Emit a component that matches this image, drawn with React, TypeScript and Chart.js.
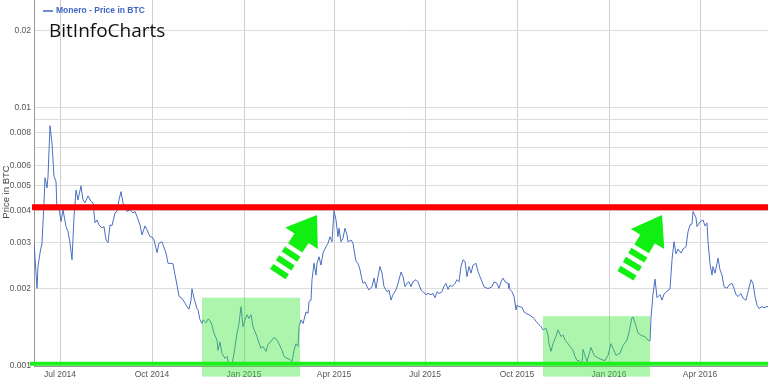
import React, { useEffect, useRef } from 'react';
import { Chart, registerables } from 'chart.js';

Chart.register(...registerables);

// x values are days counted from 2014-07-01 (day 0)
const START_DATE = '2014-07-01';

const days = [
  -26, -23, -22, -20, -18, -16, -15, -13, -12, -10,
  -8, -6, -4, -3, -1, 1, 3, 6, 8, 10,
  12, 14, 16, 18, 21, 23, 25, 28, 31, 33,
  35, 37, 39, 42, 44, 46, 48, 50, 52, 55,
  57, 59, 61, 63, 65, 67, 70, 73, 75, 77,
  80, 82, 85, 87, 90, 92, 94, 97, 99, 102,
  103, 106, 108, 110, 113, 114, 117, 119, 122, 124,
  127, 129, 131, 132, 134, 137, 138, 140, 142, 143,
  146, 148, 150, 152, 154, 157, 158, 160, 162, 165,
  167, 169, 172, 174, 177, 179, 181, 183, 185, 187,
  189, 191, 193, 197, 198, 201, 203, 206, 208, 212,
  214, 217, 219, 222, 224, 227, 230, 232, 234, 236,
  238, 239, 241, 243, 246, 248, 249, 251, 252, 254,
  256, 257, 259, 261, 263, 266, 268, 270, 272, 274,
  276, 278, 279, 281, 283, 285, 287, 288, 291, 293,
  294, 296, 298, 300, 302, 303, 305, 307, 309, 312,
  314, 316, 318, 320, 322, 324, 327, 329, 331, 333,
  336, 338, 341, 343, 345, 347, 349, 351, 353, 356,
  358, 361, 363, 366, 368, 371, 373, 375, 377, 379,
  382, 384, 386, 388, 390, 392, 395, 397, 399, 401,
  403, 405, 407, 409, 411, 413, 416, 418, 420, 422,
  424, 427, 429, 432, 434, 437, 439, 441, 443, 445,
  448, 449, 452, 454, 456, 457, 459, 462, 464, 467,
  469, 472, 474, 476, 478, 481, 483, 486, 488, 489,
  491, 493, 496, 498, 501, 503, 505, 508, 510, 513,
  515, 517, 519, 522, 523, 527, 531, 534, 537, 541,
  545, 548, 551, 553, 556, 560, 563, 567, 569, 572,
  573, 576, 578, 582, 585, 588, 590, 591, 593, 595,
  597, 600, 602, 604, 607, 610, 612, 614, 616, 618,
  621, 623, 626, 628, 630, 632, 633, 636, 637, 640,
  643, 645, 647, 648, 650, 652, 653, 655, 657, 658,
  660, 662, 664, 667, 669, 672, 674, 676, 678, 681,
  683, 686, 688, 691, 693, 695, 697, 699, 702, 704,
  707, 709,
];

const prices = [
  0.00300, 0.00200, 0.00243, 0.00274, 0.00300, 0.00429, 0.00536, 0.00490, 0.00542, 0.00853,
  0.00732, 0.00542, 0.00519, 0.00403, 0.00410, 0.00363, 0.00403, 0.00347, 0.00332, 0.00300,
  0.00258, 0.00379, 0.00481, 0.00440, 0.00499, 0.00440, 0.00429, 0.00456, 0.00434, 0.00429,
  0.00359, 0.00368, 0.00352, 0.00343, 0.00347, 0.00308, 0.00301, 0.00352, 0.00350, 0.00392,
  0.00397, 0.00440, 0.00474, 0.00429, 0.00410, 0.00397, 0.00403, 0.00392, 0.00397, 0.00379,
  0.00352, 0.00322, 0.00349, 0.00337, 0.00317, 0.00316, 0.00308, 0.00275, 0.00299, 0.00303,
  0.00295, 0.00274, 0.00250, 0.00250, 0.00249, 0.00236, 0.00206, 0.00186, 0.00183, 0.00178,
  0.00170, 0.00166, 0.00180, 0.00199, 0.00183, 0.00167, 0.00165, 0.00151, 0.00146, 0.00151,
  0.00147, 0.00152, 0.00150, 0.00144, 0.00134, 0.00126, 0.00115, 0.00124, 0.00112, 0.00107,
  0.00109, 0.00101, 0.00101, 0.00112, 0.00134, 0.00146, 0.00170, 0.00142, 0.00151, 0.00158,
  0.00153, 0.00158, 0.00142, 0.00130, 0.00126, 0.00117, 0.00119, 0.00114, 0.00121, 0.00126,
  0.00129, 0.00126, 0.00122, 0.00115, 0.00109, 0.00107, 0.00106, 0.00104, 0.00115, 0.00122,
  0.00119, 0.00142, 0.00151, 0.00146, 0.00162, 0.00160, 0.00178, 0.00180, 0.00216, 0.00250,
  0.00225, 0.00250, 0.00265, 0.00246, 0.00274, 0.00290, 0.00299, 0.00317, 0.00303, 0.00400,
  0.00368, 0.00317, 0.00342, 0.00303, 0.00313, 0.00342, 0.00322, 0.00303, 0.00308, 0.00299,
  0.00282, 0.00254, 0.00250, 0.00236, 0.00216, 0.00209, 0.00212, 0.00203, 0.00197, 0.00203,
  0.00219, 0.00200, 0.00222, 0.00243, 0.00229, 0.00203, 0.00194, 0.00197, 0.00180, 0.00189,
  0.00197, 0.00209, 0.00231, 0.00222, 0.00203, 0.00209, 0.00212, 0.00203, 0.00212, 0.00216,
  0.00212, 0.00197, 0.00194, 0.00189, 0.00191, 0.00189, 0.00191, 0.00184, 0.00194, 0.00191,
  0.00194, 0.00204, 0.00209, 0.00198, 0.00206, 0.00203, 0.00209, 0.00216, 0.00212, 0.00243,
  0.00258, 0.00254, 0.00222, 0.00243, 0.00229, 0.00246, 0.00250, 0.00232, 0.00222, 0.00212,
  0.00203, 0.00200, 0.00200, 0.00203, 0.00212, 0.00209, 0.00200, 0.00212, 0.00219, 0.00212,
  0.00209, 0.00200, 0.00194, 0.00186, 0.00165, 0.00172, 0.00170, 0.00169, 0.00162, 0.00159,
  0.00158, 0.00155, 0.00153, 0.00149, 0.00146, 0.00142, 0.00138, 0.00140, 0.00132, 0.00122,
  0.00114, 0.00122, 0.00130, 0.00138, 0.00130, 0.00132, 0.00126, 0.00122, 0.00119, 0.00115,
  0.00109, 0.00105, 0.00105, 0.00102, 0.00116, 0.00104, 0.00118, 0.00110, 0.00108, 0.00106,
  0.00105, 0.00110, 0.00122, 0.00117, 0.00110, 0.00112, 0.00120, 0.00126, 0.00135, 0.00154,
  0.00155, 0.00143, 0.00134, 0.00131, 0.00130, 0.00126, 0.00125, 0.00154, 0.00190, 0.00217,
  0.00184, 0.00189, 0.00180, 0.00190, 0.00195, 0.00199, 0.00258, 0.00303, 0.00272, 0.00284,
  0.00274, 0.00284, 0.00290, 0.00331, 0.00352, 0.00355, 0.00397, 0.00375, 0.00347, 0.00362,
  0.00368, 0.00349, 0.00358, 0.00303, 0.00249, 0.00225, 0.00243, 0.00229, 0.00250, 0.00262,
  0.00236, 0.00225, 0.00203, 0.00200, 0.00206, 0.00209, 0.00200, 0.00189, 0.00186, 0.00191,
  0.00183, 0.00180, 0.00194, 0.00216, 0.00209, 0.00186, 0.00172, 0.00167, 0.00170, 0.00168,
  0.00170, 0.00169,
];

const xTickDays = [0, 92, 184, 274, 365, 457, 549, 640];
const xTickLabels = ['Jul 2014', 'Oct 2014', 'Jan 2015', 'Apr 2015', 'Jul 2015', 'Oct 2015', 'Jan 2016', 'Apr 2016'];
const yTickValues = [0.001, 0.002, 0.003, 0.004, 0.005, 0.006, 0.007, 0.008, 0.009, 0.01, 0.02];
const yTickLabels = ['0.001', '0.002', '0.003', '0.004', '0.005', '0.006', '', '0.008', '', '0.01', '0.02'];

// annotation lines
const resistanceDays = [-28, 712];
const resistancePrices = [0.00412, 0.00412];
const supportDays = [-30, 712];
const supportPrices = [0.00102, 0.00102];

// highlighted ranges
const boxStartDays = [142, 483];
const boxEndDays = [240, 590];
const boxTopPrices = [0.00184, 0.00156];
const boxBottomPrices = [0.00091, 0.00091];

// arrows (tip position)
const arrowTipDays = [257, 602];
const arrowTipPrices = [0.00385, 0.00385];
const arrowAngles = [56.5, 59];

const X_MIN = -26;
const X_MAX = 708;
const Y_MIN = 0.001;
const Y_MAX = 0.0262;

const FONT = "'Liberation Sans', Arial, sans-serif";

function drawArrow(ctx: CanvasRenderingContext2D, tx: number, ty: number, angleDeg: number) {
  const t = (angleDeg * Math.PI) / 180;
  const ux = Math.cos(t), uy = -Math.sin(t);
  const vx = Math.sin(t), vy = Math.cos(t);
  const P = (a: number, b: number): [number, number] => [tx + a * ux + b * vx, ty + a * uy + b * vy];
  const poly = (pts: [number, number][]) => {
    ctx.beginPath();
    pts.forEach(([px, py], i) => (i ? ctx.lineTo(px, py) : ctx.moveTo(px, py)));
    ctx.closePath();
    ctx.fill();
  };
  poly([P(0, 0), P(-28, -19.5), P(-28, 19.5)]);
  poly([P(-27, -8.5), P(-27, 8.5), P(-39.5, 8.5), P(-39.5, -8.5)]);
  for (const c of [-47, -57.5, -68]) {
    poly([P(c + 3, -9.3), P(c + 3, 9.3), P(c - 3, 9.3), P(c - 3, -9.3)]);
  }
}

const overlayPlugin = {
  id: 'overlay',
  afterDatasetDraw(chart: any, args: any) {
    if (args.index !== 2) return;
    const { ctx } = chart;
    const x = chart.scales.x;
    const y = chart.scales.y;
    ctx.save();
    ctx.fillStyle = 'rgba(60, 230, 60, 0.42)';
    for (let i = 0; i < boxStartDays.length; i++) {
      const x0 = x.getPixelForValue(boxStartDays[i]);
      const x1 = x.getPixelForValue(boxEndDays[i]);
      const y0 = y.getPixelForValue(boxTopPrices[i]);
      const y1 = y.getPixelForValue(boxBottomPrices[i]);
      ctx.fillRect(x0, y0, x1 - x0, y1 - y0);
    }
    ctx.restore();
  },
  afterDraw(chart: any) {
    const { ctx } = chart;
    const x = chart.scales.x;
    const y = chart.scales.y;
    ctx.save();
    ctx.fillStyle = '#11ee11';
    for (let i = 0; i < arrowTipDays.length; i++) {
      drawArrow(ctx, x.getPixelForValue(arrowTipDays[i]), y.getPixelForValue(arrowTipPrices[i]), arrowAngles[i]);
    }
    // legend
    ctx.strokeStyle = '#3f66c4';
    ctx.lineWidth = 1.5;
    ctx.beginPath();
    ctx.moveTo(43, 11);
    ctx.lineTo(53, 11);
    ctx.stroke();
    ctx.fillStyle = '#3f66c4';
    ctx.font = `bold 8.5px ${FONT}`;
    ctx.textBaseline = 'middle';
    ctx.textAlign = 'left';
    ctx.fillText('Monero - Price in BTC', 56, 11);
    // watermark title
    ctx.fillStyle = '#111';
    ctx.font = `19px 'Open Sans', sans-serif`;
    ctx.textBaseline = 'alphabetic';
    ctx.fillText('BitInfoCharts', 49, 37);
    // axis title
    ctx.translate(6, 192);
    ctx.rotate(-Math.PI / 2);
    ctx.fillStyle = '#444';
    ctx.font = `9.5px ${FONT}`;
    ctx.textAlign = 'center';
    ctx.textBaseline = 'middle';
    ctx.fillText('Price in BTC', 0, 0);
    ctx.restore();
  },
};

export default function App() {
  const canvasRef = useRef<HTMLCanvasElement | null>(null);

  useEffect(() => {
    const canvas = canvasRef.current;
    if (!canvas) return;
    const chart = new Chart(canvas, {
      type: 'line',
      data: {
        datasets: [
          {
            label: 'resistance',
            data: resistanceDays.map((d, i) => ({ x: d, y: resistancePrices[i] })),
            borderColor: '#ff0000',
            borderWidth: 6,
            pointRadius: 0,
            clip: false,
          },
          {
            label: 'support',
            data: supportDays.map((d, i) => ({ x: d, y: supportPrices[i] })),
            borderColor: '#1ef01e',
            borderWidth: 4,
            pointRadius: 0,
            clip: false,
          },
          {
            label: 'Monero - Price in BTC',
            data: days.map((d, i) => ({ x: d, y: prices[i] })),
            borderColor: '#4a6fc0',
            borderWidth: 1,
            pointRadius: 0,
            tension: 0,
          },
        ],
      },
      options: {
        animation: false,
        responsive: false,
        devicePixelRatio: 1,
        layout: { padding: 0 },
        plugins: {
          legend: { display: false },
          tooltip: { enabled: false },
        },
        scales: {
          x: {
            type: 'linear',
            min: X_MIN,
            max: X_MAX,
            afterBuildTicks: (scale: any) => {
              scale.ticks = xTickDays.map((v) => ({ value: v }));
            },
            afterFit: (scale: any) => {
              scale.height = 14;
              scale.paddingLeft = 0;
              scale.paddingRight = 0;
            },
            ticks: {
              autoSkip: false,
              maxRotation: 0,
              padding: 4,
              color: '#555',
              font: { family: FONT, size: 8.5 },
              callback: (value: any) => {
                const i = xTickDays.indexOf(Number(value));
                return i >= 0 ? xTickLabels[i] : '';
              },
            },
            grid: { color: '#cfcfcf', drawTicks: false, lineWidth: 1 },
            border: { color: '#999', width: 1 },
          },
          y: {
            type: 'logarithmic',
            min: Y_MIN,
            max: Y_MAX,
            afterBuildTicks: (scale: any) => {
              scale.ticks = yTickValues.map((v) => ({ value: v }));
            },
            afterFit: (scale: any) => {
              scale.width = 34;
              scale.paddingTop = 0;
              scale.paddingBottom = 0;
            },
            ticks: {
              autoSkip: false,
              padding: 3,
              color: '#555',
              font: { family: FONT, size: 8.5 },
              callback: (value: any) => {
                const i = yTickValues.indexOf(Number(value));
                return i >= 0 ? yTickLabels[i] : '';
              },
            },
            grid: { color: '#dcdcdc', drawTicks: false, lineWidth: 1 },
            border: { color: '#999', width: 1 },
          },
        },
      },
      plugins: [overlayPlugin],
    });
    return () => chart.destroy();
  }, []);

  return (
    <div style={{ position: 'fixed', left: 0, top: 0, width: 768, height: 380, background: '#fff' }}>
      <canvas ref={canvasRef} width={768} height={380} style={{ display: 'block' }} data-start={START_DATE} />
    </div>
  );
}
